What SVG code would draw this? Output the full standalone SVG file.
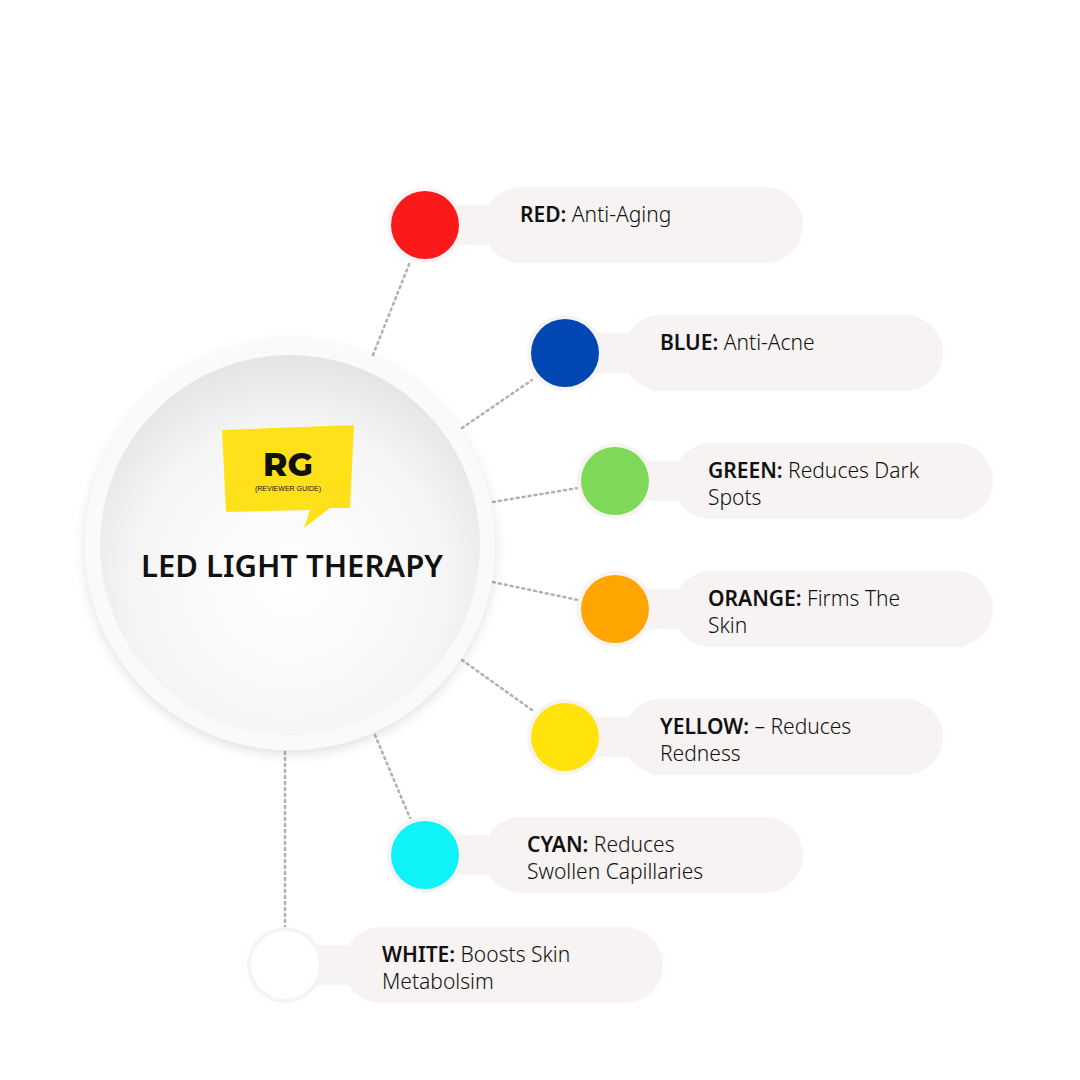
<svg xmlns="http://www.w3.org/2000/svg" width="1080" height="1080" viewBox="0 0 1080 1080">
<style>
.pill{fill:#f6f3f2}
.ring{fill:#f6f3f2}
.t{font-family:"Noto Sans","Liberation Sans",sans-serif;font-size:21px;fill:#111;font-weight:300}
.b{font-weight:600}
.con{stroke:#b0b0b0;stroke-width:2.5;stroke-dasharray:2 4;stroke-linecap:round;fill:none}
</style>
<defs>
<radialGradient id="g" cx="0.5" cy="0.6" r="0.6">
<stop offset="0" stop-color="#ffffff"/><stop offset="0.7" stop-color="#f5f5f5"/><stop offset="1" stop-color="#e4e4e4"/>
</radialGradient>
<filter id="sh" x="-20%" y="-20%" width="140%" height="140%"><feDropShadow dx="0" dy="4" stdDeviation="6" flood-color="#000" flood-opacity="0.12"/></filter>
</defs>
<rect width="1080" height="1080" fill="#fff"/>
<g id="connectors">
<line class="con" x1="373" y1="355" x2="410" y2="262"/>
<line class="con" x1="462" y1="428" x2="532" y2="380"/>
<line class="con" x1="493" y1="502" x2="578" y2="488"/>
<line class="con" x1="493" y1="582" x2="578" y2="600"/>
<line class="con" x1="462" y1="660" x2="532" y2="710"/>
<line class="con" x1="375" y1="735" x2="410" y2="818"/>
<line class="con" x1="285" y1="752" x2="285" y2="927"/>
</g>
<g id="center">
<circle cx="290" cy="545" r="205" fill="#fafafa" filter="url(#sh)"/>
<circle cx="290" cy="545" r="190" fill="url(#g)"/>
<path d="M222 430 L354 425 L350 508 L330 508 L304 528 L310 510 L226 512 Z" fill="#ffe11a"/>
<text x="288" y="476" text-anchor="middle" font-family="Montserrat,'Liberation Sans',sans-serif" font-weight="800" font-size="33" fill="#111">RG</text>
<text x="288" y="491" text-anchor="middle" font-family="'Liberation Sans',sans-serif" font-size="7" fill="#111">(REVIEWER GUIDE)</text>
<text x="292" y="577" text-anchor="middle" font-family="'Noto Sans','Liberation Sans',sans-serif" font-weight="600" font-size="31" fill="#111">LED LIGHT THERAPY</text>
</g>
<g id="red">
<rect class="pill" x="483" y="187" width="320" height="76" rx="38"/><rect class="pill" x="440" y="205" width="60" height="40"/>
<circle class="ring" cx="425" cy="225" r="38"/><circle cx="425" cy="225" r="34" fill="#fa1a1a"/>
<text class="t" x="520" y="222"><tspan class="b">RED:</tspan> Anti-Aging</text>
</g>
<g id="blue">
<rect class="pill" x="623" y="315" width="320" height="76" rx="38"/><rect class="pill" x="580" y="333" width="60" height="40"/>
<circle class="ring" cx="565" cy="353" r="38"/><circle cx="565" cy="353" r="34" fill="#0047b3"/>
<text class="t" x="660" y="350"><tspan class="b">BLUE:</tspan> Anti-Acne</text>
</g>
<g id="green">
<rect class="pill" x="673" y="443" width="320" height="76" rx="38"/><rect class="pill" x="630" y="461" width="60" height="40"/>
<circle class="ring" cx="615" cy="481" r="38"/><circle cx="615" cy="481" r="34" fill="#7dd957"/>
<text class="t" x="708" y="478"><tspan class="b">GREEN:</tspan> Reduces Dark</text>
<text class="t" x="708" y="505">Spots</text>
</g>
<g id="orange">
<rect class="pill" x="673" y="571" width="320" height="76" rx="38"/><rect class="pill" x="630" y="589" width="60" height="40"/>
<circle class="ring" cx="615" cy="609" r="38"/><circle cx="615" cy="609" r="34" fill="#ffa500"/>
<text class="t" x="708" y="606"><tspan class="b">ORANGE:</tspan> Firms The</text>
<text class="t" x="708" y="633">Skin</text>
</g>
<g id="yellow">
<rect class="pill" x="623" y="699" width="320" height="76" rx="38"/><rect class="pill" x="580" y="717" width="60" height="40"/>
<circle class="ring" cx="565" cy="737" r="38"/><circle cx="565" cy="737" r="34" fill="#ffe30a"/>
<text class="t" x="660" y="734"><tspan class="b">YELLOW:</tspan> – Reduces</text>
<text class="t" x="660" y="761">Redness</text>
</g>
<g id="cyan">
<rect class="pill" x="483" y="817" width="320" height="76" rx="38"/><rect class="pill" x="440" y="835" width="60" height="40"/>
<circle class="ring" cx="425" cy="855" r="38"/><circle cx="425" cy="855" r="34" fill="#0ff3f8"/>
<text class="t" x="527" y="852"><tspan class="b">CYAN:</tspan> Reduces</text>
<text class="t" x="527" y="879">Swollen Capillaries</text>
</g>
<g id="white">
<rect class="pill" x="343" y="927" width="320" height="76" rx="38"/><rect class="pill" x="300" y="945" width="60" height="40"/>
<circle class="ring" cx="285" cy="965" r="38"/><circle cx="285" cy="965" r="34" fill="#ffffff"/>
<text class="t" x="382" y="962"><tspan class="b">WHITE:</tspan> Boosts Skin</text>
<text class="t" x="382" y="989">Metabolsim</text>
</g>
</svg>
